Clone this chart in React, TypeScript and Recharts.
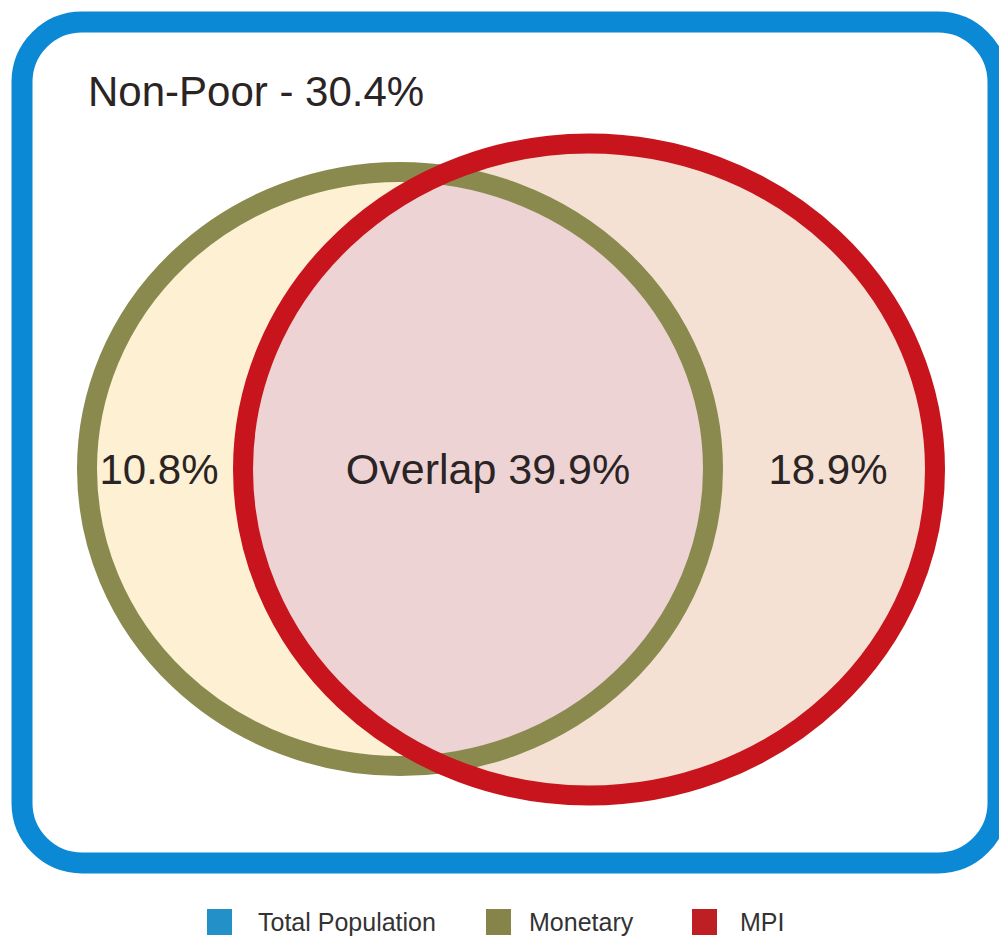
import React from "react";
import { ComposedChart, XAxis, YAxis, ReferenceArea, ReferenceDot, Legend } from "recharts";

// ---------- data ----------
const regionNames = ["Non-Poor", "Monetary only", "Overlap", "MPI only"];
const regionValues = [30.4, 10.8, 39.9, 18.9];
const regionPrefixes = ["Non-Poor - ", "", "Overlap ", ""];
const legendNames = ["Total Population", "Monetary", "MPI"];

// ---------- layout / style ----------
const W = 999;
const H = 937;
const FONT = "'Liberation Sans', Arial, Helvetica, sans-serif";
const TEXT_COLOR = "#2b2424";

const frame = { x1: 22, x2: 998, y1: 22, y2: 863, r: 60, stroke: "#0b89d4", width: 21 };
const monetary = { cx: 400, cy: 469, rx: 313, ry: 297, stroke: "#8a8a4f", fill: "#fdf0d3" };
const mpi = { cx: 589, cy: 469.5, rx: 346, ry: 326, stroke: "#c8141c", fill: "#f4e1d3" };
const overlapFill = "#eed3d4";
const ringWidth = 20;

const labelLayout = [
  { x: 88, y: 106, anchor: "start", size: 42 },
  { x: 159, y: 484, anchor: "middle", size: 42 },
  { x: 488, y: 484, anchor: "middle", size: 43 },
  { x: 828, y: 484, anchor: "middle", size: 42 },
];

const legendColors = ["#2490c8", "#878449", "#bd1f23"];
const legendSquareLefts = [207, 486, 692];
const legendTextLefts = [258, 529, 740];

const box = (e: { cx: number; cy: number; rx: number; ry: number }) => ({
  x1: e.cx - e.rx,
  x2: e.cx + e.rx,
  y1: e.cy - e.ry,
  y2: e.cy + e.ry,
});

const geom = (p: any) => ({
  cx: p.x + p.width / 2,
  cy: p.y + p.height / 2,
  rx: Math.abs(p.width) / 2,
  ry: Math.abs(p.height) / 2,
});

const FrameShape = (p: any) => (
  <rect
    x={p.x}
    y={p.y}
    width={p.width}
    height={p.height}
    rx={frame.r}
    ry={frame.r}
    fill="#ffffff"
    stroke={frame.stroke}
    strokeWidth={frame.width}
  />
);

const MonetaryFill = (p: any) => {
  const g = geom(p);
  return (
    <g>
      <defs>
        <clipPath id="monetaryClip">
          <ellipse cx={g.cx} cy={g.cy} rx={g.rx} ry={g.ry} />
        </clipPath>
      </defs>
      <ellipse cx={g.cx} cy={g.cy} rx={g.rx} ry={g.ry} fill={monetary.fill} stroke="none" />
    </g>
  );
};

const MpiFill = (p: any) => {
  const g = geom(p);
  return (
    <g>
      <ellipse cx={g.cx} cy={g.cy} rx={g.rx} ry={g.ry} fill={mpi.fill} stroke="none" />
      <ellipse
        cx={g.cx}
        cy={g.cy}
        rx={g.rx}
        ry={g.ry}
        fill={overlapFill}
        stroke="none"
        clipPath="url(#monetaryClip)"
      />
    </g>
  );
};

const ringShape = (color: string) => (p: any) => {
  const g = geom(p);
  return (
    <ellipse cx={g.cx} cy={g.cy} rx={g.rx} ry={g.ry} fill="none" stroke={color} strokeWidth={ringWidth} />
  );
};

const labelShape = (i: number) => (p: any) => (
  <text
    x={p.cx}
    y={p.cy}
    textAnchor={labelLayout[i].anchor as any}
    fontFamily={FONT}
    fontSize={labelLayout[i].size}
    fill={TEXT_COLOR}
  >
    {`${regionPrefixes[i]}${regionValues[i].toFixed(1)}%`}
  </text>
);

const LegendContent = () => (
  <div style={{ position: "relative", width: W, height: 30, fontFamily: FONT }}>
    {legendNames.map((name, i) => (
      <React.Fragment key={name}>
        <span
          style={{
            position: "absolute",
            left: legendSquareLefts[i],
            top: 1,
            width: 25,
            height: 26,
            background: legendColors[i],
          }}
        />
        <span
          style={{
            position: "absolute",
            left: legendTextLefts[i],
            top: 0,
            lineHeight: "28px",
            fontSize: 25,
            color: "#333",
            whiteSpace: "nowrap",
          }}
        >
          {name}
        </span>
      </React.Fragment>
    ))}
  </div>
);

export default function App() {
  const mb = box(monetary);
  const pb = box(mpi);
  return (
    <div style={{ position: "absolute", left: 0, top: 0, width: W, height: H, background: "#fff" }}>
      <ComposedChart width={W} height={H} margin={{ top: 0, right: 0, bottom: 0, left: 0 }}>
        <XAxis type="number" dataKey="x" domain={[0, W]} hide allowDataOverflow />
        <YAxis type="number" dataKey="y" domain={[0, H]} reversed hide allowDataOverflow />
        <ReferenceArea
          x1={frame.x1}
          x2={frame.x2}
          y1={frame.y1}
          y2={frame.y2}
          ifOverflow="visible"
          shape={FrameShape}
        />
        <ReferenceArea {...mb} ifOverflow="visible" shape={MonetaryFill} />
        <ReferenceArea {...pb} ifOverflow="visible" shape={MpiFill} />
        <ReferenceArea {...mb} ifOverflow="visible" shape={ringShape(monetary.stroke)} />
        <ReferenceArea {...pb} ifOverflow="visible" shape={ringShape(mpi.stroke)} />
        {regionNames.map((n, i) => (
          <ReferenceDot
            key={n}
            x={labelLayout[i].x}
            y={labelLayout[i].y}
            r={0}
            ifOverflow="visible"
            shape={labelShape(i)}
          />
        ))}
        <Legend
          layout="horizontal"
          verticalAlign="middle"
          align="center"
          wrapperStyle={{ top: 908, left: 0, width: W }}
          content={LegendContent}
        />
      </ComposedChart>
    </div>
  );
}
